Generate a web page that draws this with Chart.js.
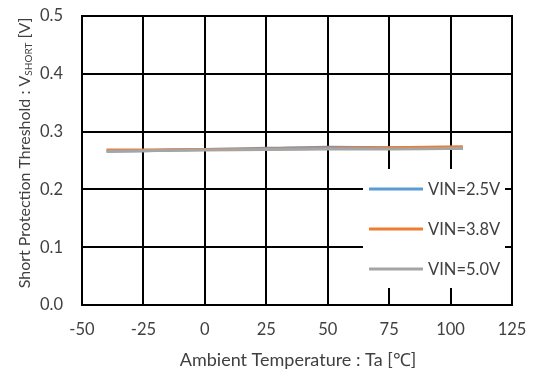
<!DOCTYPE html>
<html>
<head>
<meta charset="utf-8">
<script src="https://cdn.jsdelivr.net/npm/chart.js@4.4.1/dist/chart.umd.min.js"></script>
<style>
  html, body { margin: 0; padding: 0; background: #fff; }
  #wrap { width: 536px; height: 372px; }
</style>
</head>
<body>
<div id="wrap"><canvas id="line-chart" width="536" height="372"></canvas></div>
<script>
// temperatures (deg C) and thresholds (V)
var temps = [-40, -25, 0, 25, 50, 75, 105];
var vin25 = [0.266, 0.267, 0.269, 0.271, 0.273, 0.272, 0.271];
var vin38 = [0.268, 0.268, 0.269, 0.270, 0.271, 0.272, 0.274];
var vin50 = [0.266, 0.267, 0.268, 0.269, 0.270, 0.270, 0.271];
var seriesNames = ["VIN=2.5V", "VIN=3.8V", "VIN=5.0V"];
var seriesColors = ["#5B9BD5", "#ED7D31", "#A5A5A5"];
var xTicks = [-50, -25, 0, 25, 50, 75, 100, 125];
var yTicks = [0.0, 0.1, 0.2, 0.3, 0.4, 0.5];

var FONT = "Lato, 'Open Sans', sans-serif";
var TXT = "#404040";

function pts(vals) {
  return temps.map(function (t, i) { return { x: t, y: vals[i] }; });
}

// legend box inside the plot + axis titles (y title has a subscript)
var extras = {
  id: "extras",
  afterDatasetsDraw: function (chart) {
    var c = chart.ctx, a = chart.chartArea;
    c.save();
    // legend
    var bx = 363, by = 169, bw = 142, bh = 119;
    c.fillStyle = "#fff";
    c.fillRect(bx, by, bw, bh);
    c.font = "16.5px " + FONT;
    c.textBaseline = "middle";
    c.textAlign = "left";
    chart.data.datasets.forEach(function (ds, i) {
      var ly = by + 20 + i * 40;
      c.strokeStyle = ds.borderColor;
      c.lineWidth = 3;
      c.beginPath();
      c.moveTo(bx + 6, ly);
      c.lineTo(bx + 60, ly);
      c.stroke();
      c.fillStyle = TXT;
      c.fillText(ds.label, bx + 65, ly + 1);
    });
    // outer border redraw
    c.strokeStyle = "#000";
    c.lineWidth = 2;
    c.strokeRect(a.left, a.top, a.right - a.left, a.bottom - a.top);

    // x title
    c.fillStyle = TXT;
    c.textAlign = "center";
    c.font = "18px " + FONT;
    c.fillText("Ambient Temperature : Ta [\u2103]", 298, 360);

    // y title with subscript
    var p1 = "Short Protection Threshold : V", sub = "SHORT", p2 = " [V]";
    c.font = "16px " + FONT;
    var w1 = c.measureText(p1).width, w3 = c.measureText(p2).width;
    c.font = "10px " + FONT;
    var w2 = c.measureText(sub).width;
    var total = w1 + w2 + w3;
    c.translate(25, 153);
    c.rotate(-Math.PI / 2);
    c.textAlign = "left";
    var sx = -total / 2;
    c.font = "16px " + FONT;
    c.fillText(p1, sx, 0);
    c.font = "10px " + FONT;
    c.fillText(sub, sx + w1, 4);
    c.font = "16px " + FONT;
    c.fillText(p2, sx + w1 + w2, 0);
    c.restore();
  }
};

var ctx = document.getElementById("line-chart").getContext("2d");
var chart = new Chart(ctx, {
  type: "line",
  data: {
    datasets: [
      { label: seriesNames[0], data: pts(vin25), borderColor: seriesColors[0], order: 2 },
      { label: seriesNames[1], data: pts(vin38), borderColor: seriesColors[1], order: 1 },
      { label: seriesNames[2], data: pts(vin50), borderColor: seriesColors[2], order: 0 }
    ]
  },
  options: {
    responsive: false,
    animation: false,
    layout: { padding: { top: 16, right: 24, left: 0, bottom: 0 } },
    elements: {
      line: { borderWidth: 3, tension: 0.3, fill: false },
      point: { radius: 0 }
    },
    plugins: {
      legend: { display: false },
      tooltip: { enabled: false }
    },
    scales: {
      x: {
        type: "linear",
        min: -50,
        max: 125,
        afterBuildTicks: function (s) { s.ticks = xTicks.map(function (v) { return { value: v }; }); },
        afterFit: function (s) { s.height = 67; s.paddingLeft = 0; s.paddingRight = 0; },
        grid: { color: "#000", lineWidth: 2, drawTicks: false },
        border: { color: "#000", width: 2 },
        ticks: { padding: 15, color: TXT, font: { family: FONT, size: 16.5 } }
      },
      y: {
        min: 0,
        max: 0.5,
        afterBuildTicks: function (s) { s.ticks = yTicks.map(function (v) { return { value: v }; }); },
        afterFit: function (s) { s.width = 82; s.paddingTop = 8; s.paddingBottom = 8; },
        grid: { color: "#000", lineWidth: 2, drawTicks: false },
        border: { color: "#000", width: 2 },
        ticks: {
          padding: 19,
          color: TXT,
          font: { family: FONT, size: 16.5 },
          callback: function (v) { return Number(v).toFixed(1); }
        }
      }
    }
  },
  plugins: [extras]
});
</script>
</body>
</html>
